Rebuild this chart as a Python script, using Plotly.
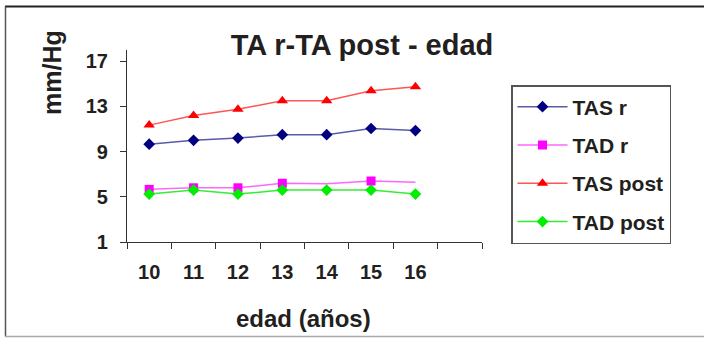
import plotly.graph_objects as go

edad = [10, 11, 12, 13, 14, 15, 16]
tas_r = [9.66, 10.0, 10.2, 10.5, 10.5, 11.05, 10.87]
tad_r = [5.66, 5.8, 5.8, 6.2, 6.15, 6.4, 6.3]
tas_post = [11.35, 12.2, 12.75, 13.5, 13.5, 14.4, 14.75]
tad_post = [5.24, 5.6, 5.24, 5.6, 5.6, 5.6, 5.24]
y_ticks = [1, 5, 9, 13, 17]

FONT = "Liberation Sans, Arial, sans-serif"
TXT = "#231f20"

W, H = 704, 338
L, R, T, B = 127, 222, 50, 96
PW, PH = W - L - R, H - T - B


def px(x):
    return (x - L) / PW


def py(y):
    return (H - B - y) / PH


fig = go.Figure()

series = [
    ("TAS r", tas_r, "#000080", "#5a5aa8", "diamond", 9, None),
    ("TAD r", tad_r, "#ff00ff", "#ff66ff", "square", 9, [0, 1, 2, 3, 5]),
    ("TAS post", tas_post, "#ff0000", "#ff5555", "triangle-up", 10, None),
    ("TAD post", tad_post, "#00ee00", "#33ee33", "diamond", 9, None),
]
for i, (name, vals, mc, lc, sym, sz, sel) in enumerate(series):
    tr = go.Scatter(
        x=edad, y=vals, name=name, mode="lines+markers",
        line=dict(color=lc, width=1.5),
        marker=dict(symbol=sym, size=sz, color=mc, line=dict(width=0)),
        legendgroup=f"g{i}",
    )
    if sel is not None:
        tr.selectedpoints = sel
        tr.unselected = dict(marker=dict(opacity=0))
        tr.selected = dict(marker=dict(opacity=1))
    fig.add_trace(tr)

fig.update_layout(
    width=W, height=H,
    margin=dict(l=L, r=R, t=T, b=B),
    paper_bgcolor="white", plot_bgcolor="white",
    showlegend=True,
    legend=dict(
        x=px(511), y=py(85), xanchor="left", yanchor="top",
        xref="paper", yref="paper",
        bordercolor="#555555", borderwidth=1.5,
        font=dict(family=FONT, size=21, color=TXT, weight="bold"),
        tracegroupgap=8, traceorder="grouped",
        itemwidth=50,
    ),
    title=dict(
        text="TA r-TA post - edad", x=362 / W, xref="container", xanchor="center",
        y=1 - 45 / H, yref="container", yanchor="middle",
        font=dict(family=FONT, size=29, color=TXT, weight="bold"),
    ),
    xaxis=dict(
        range=[9.5, 17.5], tickvals=edad, ticktext=[str(v) for v in edad],
        ticks="", showline=True, linecolor="#333333", linewidth=1.2,
        showgrid=False, zeroline=False,
        tickfont=dict(family=FONT, size=20, color=TXT, weight="bold"),
        ticklabelstandoff=12,
        minor=dict(tick0=9.5, dtick=1, ticks="outside", ticklen=6,
                   tickcolor="#333333", tickwidth=1.2, showgrid=False),
    ),
    yaxis=dict(
        range=[1, 18], tickvals=y_ticks, ticks="outside", ticklen=6,
        tickcolor="#333333", tickwidth=1.2,
        showline=True, linecolor="#333333", linewidth=1.2,
        showgrid=False, zeroline=False,
        tickfont=dict(family=FONT, size=20, color=TXT, weight="bold"),
        ticklabelstandoff=8,
    ),
    annotations=[
        dict(text="mm/Hg", x=px(52), y=py(73), xref="paper", yref="paper",
             textangle=-90, showarrow=False, xanchor="center", yanchor="middle",
             font=dict(family=FONT, size=25, color=TXT, weight="bold")),
        dict(text="edad (años)", x=px(303), y=py(318), xref="paper", yref="paper",
             showarrow=False, xanchor="center", yanchor="middle",
             font=dict(family=FONT, size=24, color=TXT, weight="bold")),
    ],
    shapes=[
        dict(type="line", xref="paper", yref="paper", x0=px(5), x1=px(704),
             y0=py(6.5), y1=py(6.5), line=dict(color="#222222", width=2)),
        dict(type="line", xref="paper", yref="paper", x0=px(5.5), x1=px(5.5),
             y0=py(6.5), y1=py(336.5), line=dict(color="#555555", width=1.5)),
        dict(type="line", xref="paper", yref="paper", x0=px(5), x1=px(704),
             y0=py(336.5), y1=py(336.5), line=dict(color="#aaaaaa", width=1.5)),
    ],
)

fig.write_html("out.html")
